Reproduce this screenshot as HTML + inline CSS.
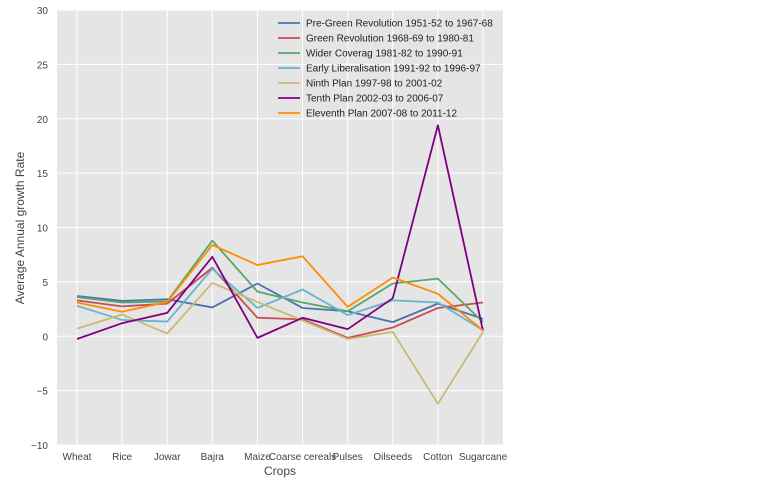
<!DOCTYPE html>
<html><head><meta charset="utf-8"><style>
body{margin:0;background:#fff;font-family:"Liberation Sans",sans-serif}
svg text{font-family:"Liberation Sans",sans-serif}
</style></head><body>
<svg id="chart" width="774" height="494"></svg>
<script>
const categories=["Wheat","Rice","Jowar","Bajra","Maize","Coarse cereals","Pulses","Oilseeds","Cotton","Sugarcane"];
const seriesNames=["Pre-Green Revolution 1951-52 to 1967-68","Green Revolution 1968-69 to 1980-81","Wider Coverag 1981-82 to 1990-91","Early Liberalisation 1991-92 to 1996-97","Ninth Plan 1997-98 to 2001-02","Tenth Plan 2002-03 to 2006-07","Eleventh Plan 2007-08 to 2011-12"];
const seriesColors=["#4c72b0","#c44e52","#55a868","#64b5cd","#ccb974","#800080","#ff8c00"];
const preGreen=[3.7,3.25,3.4,2.65,4.85,2.6,2.3,1.3,3.0,1.6];
const greenRev=[3.3,2.75,3.0,6.3,1.7,1.55,-0.15,0.8,2.6,3.1];
const wider=[3.6,3.1,3.2,8.8,4.1,3.1,2.3,4.85,5.3,1.3];
const earlyLib=[2.8,1.5,1.35,6.2,2.6,4.3,1.95,3.3,3.1,0.55];
const ninth=[0.7,2.0,0.25,4.9,3.15,1.45,-0.25,0.4,-6.2,0.4];
const tenth=[-0.25,1.2,2.15,7.3,-0.15,1.7,0.65,3.5,19.4,0.5];
const eleventh=[3.1,2.25,3.15,8.4,6.55,7.35,2.7,5.4,3.9,0.55];
const allSeries=[preGreen,greenRev,wider,earlyLib,ninth,tenth,eleventh];
const yTicks=[-10,-5,0,5,10,15,20,25,30];
const yTickLabels=["\u221210","\u22125","0","5","10","15","20","25","30"];

const NS="http://www.w3.org/2000/svg";
const svg=document.getElementById("chart");
const L=57,R=503,T=10,B=445,ymin=-10,ymax=30;
function xs(i){return 77+i*(R-L-40)/(categories.length-1);}
function ys(v){return B-(v-ymin)/(ymax-ymin)*(B-T);}
function mk(t,a){const e=document.createElementNS(NS,t);for(const k in a)e.setAttribute(k,a[k]);svg.appendChild(e);return e;}

const bg=mk("rect",{x:L,y:T,width:R-L,height:B-T,fill:"#e5e5e5"});


yTicks.forEach((t,i)=>{
  const g=mk("line",{x1:L,x2:R,y1:ys(t),y2:ys(t),stroke:"#fff","stroke-width":1});
  
  
  const tx=mk("text",{x:48,y:ys(t)+4,"text-anchor":"end","font-size":10,fill:"#444"});
  tx.textContent=yTickLabels[i];
  
  
});
categories.forEach((c,i)=>{
  const g=mk("line",{x1:xs(i),x2:xs(i),y1:T,y2:B,stroke:"#fff","stroke-width":1});
  
  
  const tx=mk("text",{x:xs(i),y:460,"text-anchor":"middle","font-size":10,fill:"#444"});
  tx.textContent=c;
  
  
});
allSeries.forEach((s,k)=>{
  const p=mk("polyline",{points:s.map((v,i)=>xs(i)+","+ys(v)).join(" "),fill:"none",stroke:seriesColors[k],"stroke-width":1.8,"stroke-linejoin":"round"});
  
  
});
const xt=mk("text",{x:280,y:475,"text-anchor":"middle","font-size":12,fill:"#444"});
xt.textContent="Crops";


const yt=mk("text",{x:0,y:0,"text-anchor":"middle","font-size":12,fill:"#444",transform:"translate(24,228) rotate(-90)"});
yt.textContent="Average Annual growth Rate";


seriesNames.forEach((n,k)=>{
  const y=23+k*15;
  const l=mk("line",{x1:278,x2:300,y1:y,y2:y,stroke:seriesColors[k],"stroke-width":1.8});
  
  
  const tx=mk("text",{x:306,y:y+3.5,"font-size":10,fill:"#222"});
  tx.textContent=n;
  
  
});
</script>
</body></html>
